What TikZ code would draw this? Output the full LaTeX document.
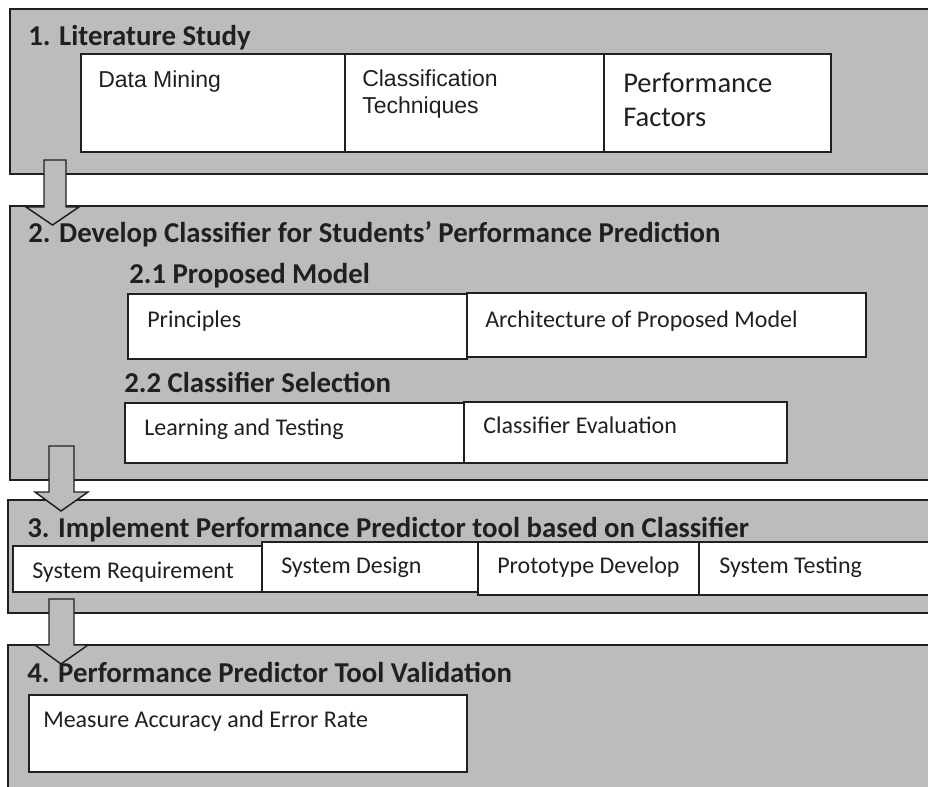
\documentclass[tikz,border=0pt]{standalone}
\usepackage{fontspec}
\setmainfont{Carlito}
\newfontfamily\arialfont{Liberation Sans}

\definecolor{panelgray}{HTML}{BCBCBC}
\definecolor{inkgray}{HTML}{231F20}

\tikzset{
  panel/.style={draw=inkgray, fill=panelgray, line width=1.3pt},
  itembox/.style={draw=inkgray, fill=white, line width=1.1pt},
  blockarrow/.style={draw=inkgray, fill=panelgray, line width=1.1pt, line join=miter},
  heading/.style={anchor=base west, inner sep=0pt, text=inkgray,
    font=\fontsize{21.6}{26}\selectfont\bfseries},
  itemtext/.style={anchor=base west, inner sep=0pt, text=inkgray,
    font=\fontsize{18}{22}\selectfont},
  arialtext/.style={anchor=base west, inner sep=0pt, align=left, text=inkgray,
    font=\arialfont\fontsize{17.25}{20.25}\selectfont},
}

\begin{document}
\begin{tikzpicture}[x=0.75pt, y=-0.75pt]
    \path[use as bounding box, clip] (0,0) rectangle (928,786);

    % grey stage panels
    \draw[panel] (10,9) rectangle (940,174);
    \draw[panel] (10,206) rectangle (940,480);
    \draw[panel] (8,500) rectangle (940,613);
    \draw[panel] (8,645) rectangle (940,800);

    % block arrows from one stage to the next
    \draw[blockarrow] (44,160) -- (66,160) -- (66,207) -- (79,207) -- (52.5,225)
        -- (26,207) -- (44,207) -- cycle;
    \draw[blockarrow] (49,446) -- (74,446) -- (74,492) -- (88,492) -- (61,511)
        -- (35,492) -- (49,492) -- cycle;
    \draw[blockarrow] (49,599) -- (74,599) -- (74,645) -- (88,645) -- (61,664)
        -- (35,645) -- (49,645) -- cycle;

    % stage 1 (two-line labels sit on their last baseline)
    \node[heading] (stage1) at (28,45) {1. Literature Study};
    \draw[itembox] (81,54) rectangle (345,152);
    \draw[itembox] (345,54) rectangle (604,152);
    \draw[itembox] (604,54) rectangle (831,152);
    \node[arialtext] (mining) at (98,87) {Data Mining};
    \node[arialtext] (techniques) at (362,113) {Classification\\Techniques};
    \node[anchor=base west, inner sep=0pt, align=left, text=inkgray,
        font=\fontsize{21.4}{25.5}\selectfont] (factors) at (623,126) {Performance\\Factors};

    % stage 2
    \node[heading] (stage2) at (28,242) {2. Develop Classifier for Students’ Performance Prediction};
    \node[heading] (model) at (129,283) {2.1 Proposed Model};
    \draw[itembox] (128,294) rectangle (467,359);
    \draw[itembox] (467,293) rectangle (866,357);
    \node[itemtext] (principles) at (147,327) {Principles};
    \node[itemtext] (architecture) at (485,327) {Architecture of Proposed Model};
    \node[heading] (selection) at (124,392) {2.2 Classifier Selection};
    \draw[itembox] (125,403) rectangle (464,463);
    \draw[itembox] (464,402) rectangle (787,463);
    \node[itemtext] (learning) at (144,435) {Learning and Testing};
    \node[itemtext] (evaluation) at (483,433) {Classifier Evaluation};

    % stage 3
    \node[heading] (stage3) at (27,537) {3. Implement Performance Predictor tool based on Classifier};
    \draw[itembox] (13,546) rectangle (262,592);
    \draw[itembox] (262,542) rectangle (478,592);
    \draw[itembox] (478,542) rectangle (699,595);
    \draw[itembox] (699,542) rectangle (940,595);
    \node[itemtext] (requirement) at (32,578) {System Requirement};
    \node[itemtext] (design) at (281,573) {System Design};
    \node[itemtext] (prototype) at (497,573) {Prototype Develop};
    \node[itemtext] (testing) at (719,573) {System Testing};

    % stage 4
    \node[heading] (stage4) at (27,682) {4. Performance Predictor Tool Validation};
    \draw[itembox] (29,695) rectangle (467,772);
    \node[itemtext] (accuracy) at (43,727) {Measure Accuracy and Error Rate};
\end{tikzpicture}
\end{document}
